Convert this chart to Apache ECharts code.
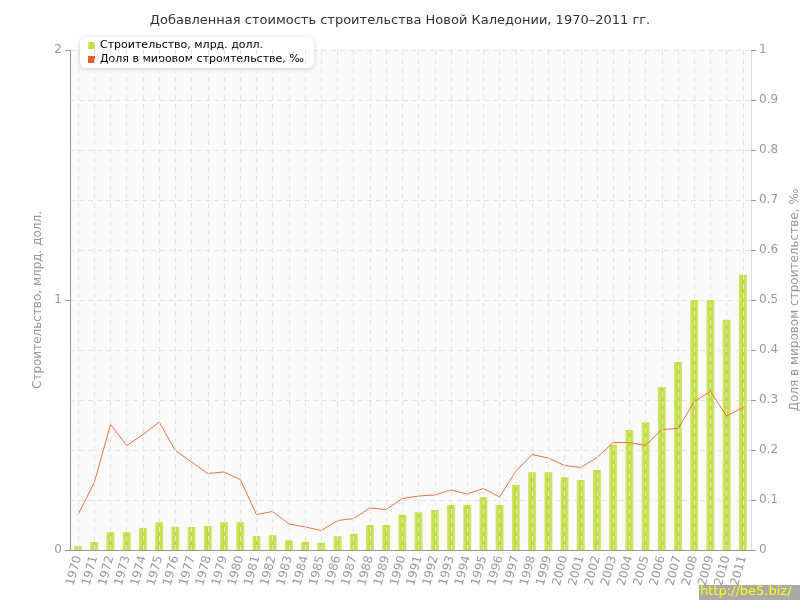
<!DOCTYPE html>
<html><head><meta charset="utf-8">
<script src="https://cdn.jsdelivr.net/npm/echarts@6/dist/echarts.min.js"></script>
<style>html,body{margin:0;padding:0;background:#fff}#c{width:800px;height:600px}</style>
</head><body><div id="c"></div>
<script>
const years = ['1970','1971','1972','1973','1974','1975','1976','1977','1978','1979','1980','1981','1982','1983','1984','1985','1986','1987','1988','1989','1990','1991','1992','1993','1994','1995','1996','1997','1998','1999','2000','2001','2002','2003','2004','2005','2006','2007','2008','2009','2010','2011'];
const construction = [0.016,0.032,0.071,0.071,0.088,0.111,0.093,0.092,0.096,0.111,0.111,0.056,0.059,0.039,0.033,0.029,0.055,0.065,0.100,0.100,0.141,0.151,0.160,0.180,0.180,0.211,0.180,0.260,0.311,0.311,0.291,0.280,0.320,0.421,0.480,0.511,0.652,0.752,1.000,1.000,0.921,1.101];
const worldShare = [0.071,0.135,0.251,0.209,0.231,0.256,0.199,0.176,0.153,0.156,0.141,0.071,0.077,0.052,0.046,0.039,0.059,0.063,0.084,0.081,0.103,0.108,0.110,0.120,0.112,0.123,0.106,0.158,0.191,0.184,0.169,0.165,0.185,0.215,0.215,0.209,0.241,0.243,0.297,0.317,0.268,0.285];
const seriesNames = ['Строительство, млрд. долл.','Доля в мировом строительстве, ‰'];
const FONT = 'DejaVu Sans';
const chart = echarts.init(document.getElementById('c'));
chart.setOption({
  animation:false,
  textStyle:{fontFamily:FONT},
  title:{text:'Добавленная стоимость строительства Новой Каледонии, 1970–2011 гг.',left:'center',top:9,
    textStyle:{fontFamily:FONT,fontSize:13,fontWeight:'normal',color:'#333'}},
  legend:{orient:'vertical',left:80,top:37,icon:'rect',itemWidth:7,itemHeight:7,itemGap:3,
    backgroundColor:'#fff',borderRadius:6,padding:[3,10,3,8],shadowColor:'rgba(0,0,0,0.18)',shadowBlur:4,shadowOffsetY:1,
    textStyle:{fontFamily:FONT,fontSize:11,color:'#000'},data:seriesNames},
  grid:{left:70,right:49,top:50,bottom:50,show:true,backgroundColor:'#fafafa',borderWidth:0,outerBoundsMode:'none',containLabel:false},
  xAxis:{type:'category',data:years,boundaryGap:true,z:5,
    axisLine:{lineStyle:{color:'#999'}},
    axisTick:{alignWithLabel:true,length:5,lineStyle:{color:'#999'}},
    axisLabel:{rotate:75,color:'#999',fontSize:12,fontFamily:FONT,interval:0,margin:6},
    splitLine:{show:true,alignWithLabel:true,lineStyle:{color:'#e4e4e4',type:[5,4],width:1}}},
  yAxis:[
    {type:'value',min:0,max:2,interval:1,position:'left',
     name:'Строительство, млрд. долл.',nameLocation:'middle',nameGap:22,
     nameTextStyle:{color:'#999',fontSize:12,fontFamily:FONT},
     axisLine:{show:true,lineStyle:{color:'#999'}},axisTick:{show:true,length:5,lineStyle:{color:'#999'}},
     axisLabel:{color:'#999',fontSize:12,margin:8},splitLine:{show:false}},
    {type:'value',min:0,max:1,interval:0.1,position:'right',
     name:'Доля в мировом строительстве, ‰',nameLocation:'middle',nameGap:28,nameRotate:90,
     nameTextStyle:{color:'#999',fontSize:12,fontFamily:FONT},
     axisLine:{show:true,lineStyle:{color:'#ddd'}},axisTick:{show:true,length:5,lineStyle:{color:'#999'}},
     axisLabel:{color:'#999',fontSize:12,margin:8,formatter:v=>String(Math.round(v*10)/10)},
     splitLine:{show:true,lineStyle:{color:'#e4e4e4',type:[5,4]}}}
  ],
  series:[
    {name:seriesNames[0],type:'bar',yAxisIndex:0,data:construction,barWidth:8,
     itemStyle:{color:new echarts.graphic.LinearGradient(0,0,1,0,[{offset:0,color:'#d3e874'},{offset:0.5,color:'#bcdb34'},{offset:1,color:'#d3e874'}])}},
    {name:seriesNames[1],type:'line',yAxisIndex:1,data:worldShare,symbol:'none',
     lineStyle:{color:'#e8744a',width:1},itemStyle:{color:'#e8602a'}}
  ],
  color:['#b9d92e','#e8602a'],
  graphic:[
    {type:'rect',left:699,top:585,shape:{width:101,height:15},style:{fill:'#aaa'}},
    {type:'text',left:700,top:585,style:{text:'http://be5.biz/',fill:'#ff0',font:'13px "DejaVu Sans"'}}
  ]
});
</script></body></html>
